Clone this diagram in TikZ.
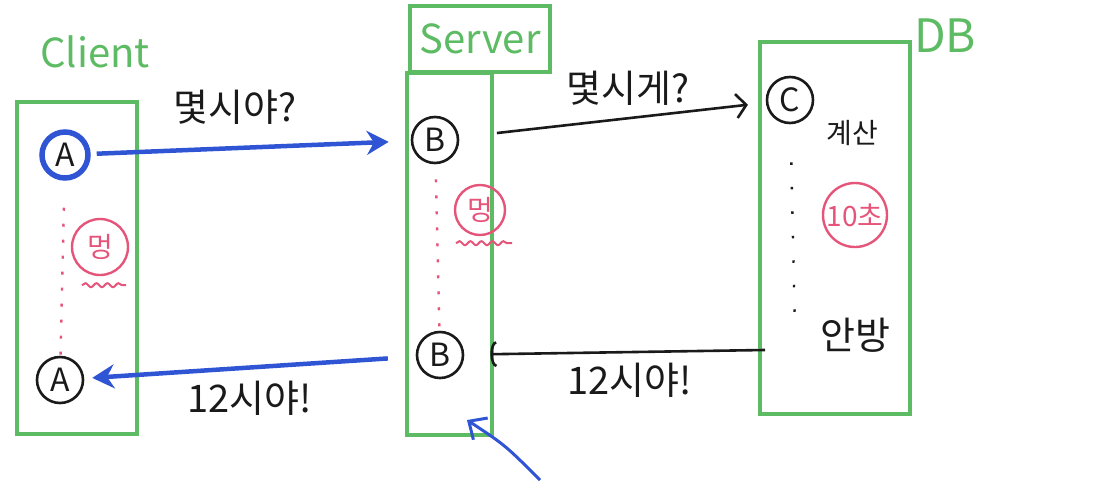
\documentclass[tikz,border=0pt]{standalone}
\usepackage{fontspec}
\setmainfont{Noto Sans CJK KR}
\usepackage{xcolor}
\definecolor{cLane}{HTML}{5DBB63}
\definecolor{cReq}{HTML}{2F55D4}
\definecolor{cIdle}{HTML}{E5557A}
\definecolor{cInk}{HTML}{1A1A1A}
\usetikzlibrary{positioning,arrows.meta,calc,decorations.pathmorphing}
\tikzset{
  lane-box/.style={draw=cLane,line width=3.5pt,anchor=north west,inner sep=0pt},
  lane-label/.style={text=cLane,font=\fontsize{40}{44}\selectfont},
  node-call/.style={draw=cInk,line width=2.6pt,circle,minimum size=46pt,
    inner sep=0pt,text=cInk,font=\fontsize{32}{34}\selectfont},
  node-call-hot/.style={draw=cReq,line width=5.5pt},
  node-idle/.style={draw=cIdle,line width=2.4pt,circle,minimum size=56pt,
    inner sep=0pt,text=cIdle,font=\fontsize{28}{30}\selectfont},
  msg-label/.style={text=cInk,font=\fontsize{38}{42}\selectfont},
  note-label/.style={text=cInk,font=\fontsize{28}{32}\selectfont},
  arrow-req/.style={-{Stealth[length=22pt,width=24pt]},line width=4.5pt,draw=cReq},
  arrow-ink/.style={-{Straight Barb[length=10pt,width=24pt]},line width=2.6pt,draw=cInk},
  arrow-ret/.style={-{Arc Barb[length=6pt,width=26pt]},line width=2.6pt,draw=cInk},
  arrow-hit/.style={-{Straight Barb[length=14pt,width=26pt]},line width=3pt,draw=cReq},
  idle-dots/.style={draw=cIdle,line width=2.4pt,dash pattern=on 3pt off 13pt},
  wait-dots/.style={draw=cInk,line width=2.4pt,dash pattern=on 2.5pt off 22pt},
  idle-scribble/.style={draw=cIdle,line width=2pt,
    decorate,decoration={snake,amplitude=2pt,segment length=11pt}},
}

\begin{document}
\begin{tikzpicture}[x=1pt,y=-1pt]
  \useasboundingbox (0,0) rectangle (1106,480);

  % lanes
  \node[lane-box,minimum width=120pt,minimum height=332pt] (client) at (15,100) {};
  \node[lane-label] (client-lbl) at (95,52) {Client};
  \node[lane-box,lane-label,anchor=center,minimum width=140pt,minimum height=66pt]
    (server-lbl) at (480,39) {Server};
  \node[lane-box,minimum width=85pt,minimum height=362pt] (server) at (405,71) {};
  \node[lane-box,minimum width=150pt,minimum height=372pt] (db) at (758,40) {};
  \node[lane-label,font=\fontsize{46}{50}\selectfont] (db-lbl) at (945,36) {DB};

  % calls
  \node[node-call,node-call-hot] (a1) at (65,155) {A};
  \node[node-call] (a2) at (60,380) {A};
  \node[node-call] (b1) at (435,140) {B};
  \node[node-call] (b2) at (440,355) {B};
  \node[node-call] (c1) at (790,100) {C};

  % waiting
  \node[node-idle] (m1) at (100,247) {멍};
  \node[node-idle,minimum size=50pt] (m2) at (480,210) {멍};
  \node[node-idle,minimum size=64pt] (t1) at (855,215) {10초};
  \node[note-label] (calc) at (852,133) {계산};
  \node[msg-label] (done) at (855,335) {안방};
  \coordinate (c-end) at (795,332);
  \draw[idle-dots,shorten <=27pt] (a1) -- (a2);
  \draw[idle-dots,shorten <=15pt] (b1) -- (b2);
  \draw[wait-dots,shorten <=38pt] (c1) -- (c-end);
  \draw[idle-scribble] ($(m1.south)+(-18,9)$) -- ++(44,0);
  \draw[idle-scribble] ($(m2.south)+(-24,7)$) -- ++(56,0);

  % messages
  \draw[arrow-req,shorten <=6pt,shorten >=22pt] (a1) -- (b1)
    node[msg-label,pos=0.45,above=18pt] {몇시야?};
  \draw[arrow-ink,shorten <=38pt,shorten >=18pt] (b1) -- (c1)
    node[msg-label,pos=0.55,above=8pt] {몇시게?};
  \coordinate (db-ret) at (765,350);
  \draw[arrow-ret,shorten >=26pt] (db-ret) -- (b2)
    node[msg-label,pos=0.45,below=6pt] {12시야!};
  \draw[arrow-req,shorten <=28pt,shorten >=8pt] (b2) -- (a2)
    node[msg-label,pos=0.5,below=8pt] {12시야!};

  \coordinate (ext) at (540,480);
  \coordinate (srv-hit) at (467,420);
  \draw[arrow-hit] (ext) .. controls (505,445) .. (srv-hit);
\end{tikzpicture}
\end{document}
